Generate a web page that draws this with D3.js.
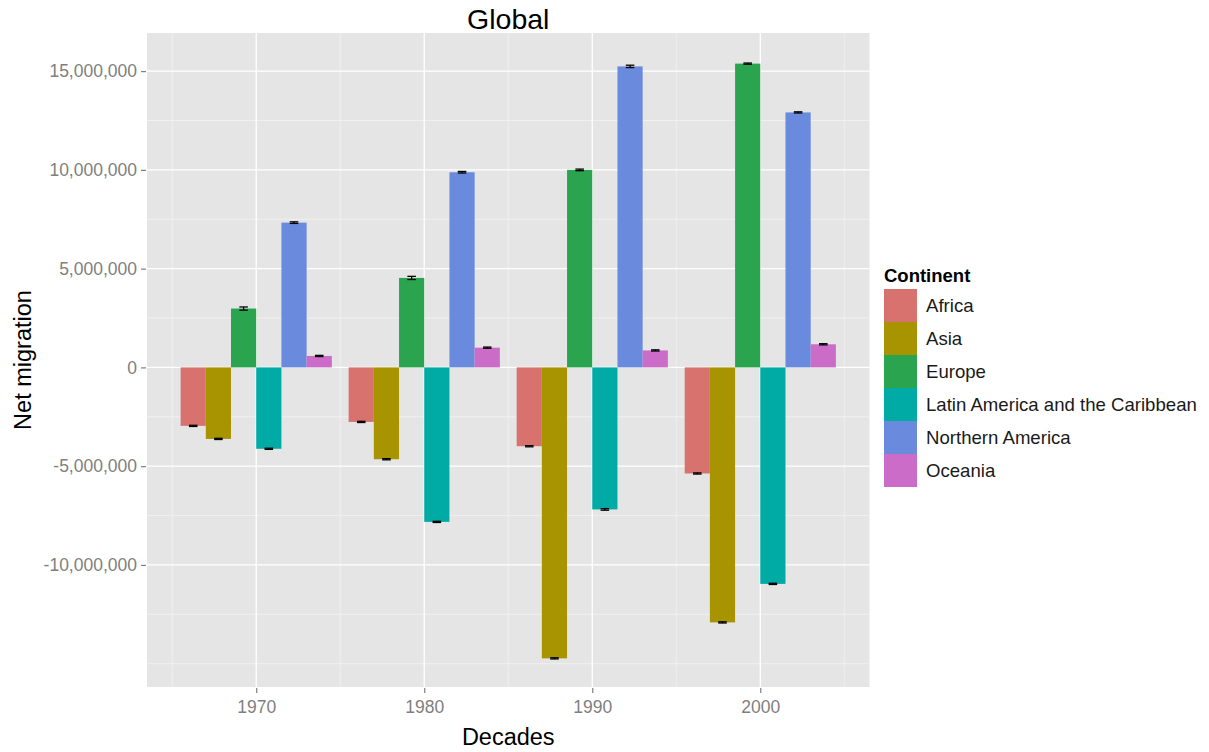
<!DOCTYPE html>
<html>
<head>
<meta charset="utf-8">
<script src="https://cdn.jsdelivr.net/npm/d3@7"></script>
<style>
  html, body { margin: 0; padding: 0; background: #ffffff; }
  svg { display: block; font-family: "Liberation Sans", Arial, sans-serif; }
</style>
</head>
<body>
<svg id="chart" width="1209" height="752"></svg>
<script>
// ---- data ----
const decades = [1970, 1980, 1990, 2000];
const continents = ["Africa", "Asia", "Europe", "Latin America and the Caribbean", "Northern America", "Oceania"];
const colors = ["#D7726F", "#A89300", "#2BA44F", "#00ABA6", "#6A8BDD", "#CB6CC8"];
const africa   = [-2960000, -2760000, -3990000, -5370000];
const asia     = [-3620000, -4650000, -14730000, -12910000];
const europe   = [2980000, 4530000, 10000000, 15380000];
const latin    = [-4120000, -7820000, -7190000, -10960000];
const northAm  = [7330000, 9880000, 15240000, 12910000];
const oceania  = [580000, 1000000, 860000, 1170000];
const errAfrica  = [30000, 30000, 30000, 30000];
const errAsia    = [30000, 30000, 30000, 30000];
const errEurope  = [80000, 80000, 40000, 30000];
const errLatin   = [30000, 30000, 40000, 30000];
const errNorthAm = [40000, 40000, 60000, 30000];
const errOceania = [30000, 30000, 30000, 30000];
const yTicks = [-10000000, -5000000, 0, 5000000, 10000000, 15000000];
const yMinor = [-15000000, -12500000, -7500000, -2500000, 2500000, 7500000, 12500000];
const xMinor = [1965, 1975, 1985, 1995, 2005];

const series = [africa, asia, europe, latin, northAm, oceania];
const errors = [errAfrica, errAsia, errEurope, errLatin, errNorthAm, errOceania];

const rows = [];
decades.forEach((d, di) => {
  continents.forEach((c, ci) => {
    rows.push({decade: d, idx: ci, continent: c, value: series[ci][di], err: errors[ci][di]});
  });
});

// ---- layout ----
const svg = d3.select("#chart");
const panel = {left: 147, right: 869.5, top: 33, bottom: 687};

const x = d3.scaleLinear().domain([1963.5, 2006.5]).range([panel.left, panel.right]);
const y = d3.scaleLinear().domain([-16180000, 16930000]).range([panel.bottom, panel.top]);
const dodge = 9, barW = dodge / continents.length;

// panel background
svg.append("rect")
  .attr("x", panel.left).attr("y", panel.top)
  .attr("width", panel.right - panel.left).attr("height", panel.bottom - panel.top)
  .attr("fill", "#E5E5E5");

const grid = svg.append("g");
grid.selectAll("line.ymin").data(yMinor).enter().append("line")
  .attr("x1", panel.left).attr("x2", panel.right)
  .attr("y1", d => y(d)).attr("y2", d => y(d))
  .attr("stroke", "#F2F2F2").attr("stroke-width", 0.8);
grid.selectAll("line.xmin").data(xMinor).enter().append("line")
  .attr("y1", panel.top).attr("y2", panel.bottom)
  .attr("x1", d => x(d)).attr("x2", d => x(d))
  .attr("stroke", "#F2F2F2").attr("stroke-width", 0.8);
grid.selectAll("line.ymaj").data(yTicks).enter().append("line")
  .attr("x1", panel.left).attr("x2", panel.right)
  .attr("y1", d => y(d)).attr("y2", d => y(d))
  .attr("stroke", "#FFFFFF").attr("stroke-width", 1.3);
grid.selectAll("line.xmaj").data(decades).enter().append("line")
  .attr("y1", panel.top).attr("y2", panel.bottom)
  .attr("x1", d => x(d)).attr("x2", d => x(d))
  .attr("stroke", "#FFFFFF").attr("stroke-width", 1.3);

// bars
const bars = svg.append("g");
bars.selectAll("rect").data(rows).enter().append("rect")
  .attr("x", d => x(d.decade - dodge / 2 + barW * d.idx))
  .attr("width", d => x(d.decade - dodge / 2 + barW * (d.idx + 1)) - x(d.decade - dodge / 2 + barW * d.idx))
  .attr("y", d => y(Math.max(0, d.value)))
  .attr("height", d => Math.abs(y(d.value) - y(0)))
  .attr("fill", d => colors[d.idx]);

// error bars
const eb = svg.append("g").attr("stroke", "#000").attr("stroke-width", 1.3);
rows.forEach(d => {
  const cx = x(d.decade - dodge / 2 + barW * (d.idx + 0.5));
  const hw = (x(barW) - x(0)) * 0.17;
  const y1 = y(d.value + d.err), y2 = y(d.value - d.err);
  eb.append("line").attr("x1", cx - hw).attr("x2", cx + hw).attr("y1", y1).attr("y2", y1);
  eb.append("line").attr("x1", cx - hw).attr("x2", cx + hw).attr("y1", y2).attr("y2", y2);
  eb.append("line").attr("x1", cx).attr("x2", cx).attr("y1", y1).attr("y2", y2);
});

// axes
const fmt = d3.format(",");
const yAxis = d3.axisLeft(y).tickValues(yTicks).tickSize(5).tickPadding(4)
  .tickFormat(d => fmt(d).replace("\u2212", "-"));
const gy = svg.append("g").attr("transform", `translate(${panel.left - 1},0)`).call(yAxis);
gy.select(".domain").remove();
gy.selectAll(".tick line").attr("stroke", "#7F7F7F").attr("stroke-width", 1.2);
gy.selectAll(".tick text").attr("fill", "#7F7F7F").style("font-size", "17.5px")
  .style("font-family", "'Liberation Sans', Arial, sans-serif");

const xAxis = d3.axisBottom(x).tickValues(decades).tickSize(5).tickPadding(8).tickFormat(d => String(d));
const gx = svg.append("g").attr("transform", `translate(0,${panel.bottom + 1})`).call(xAxis);
gx.select(".domain").remove();
gx.selectAll(".tick line").attr("stroke", "#7F7F7F").attr("stroke-width", 1.2);
gx.selectAll(".tick text").attr("fill", "#7F7F7F").style("font-size", "17.5px")
  .style("font-family", "'Liberation Sans', Arial, sans-serif");

// titles
svg.append("text").attr("x", (panel.left + panel.right) / 2).attr("y", 29)
  .attr("text-anchor", "middle").style("font-size", "28.5px").attr("fill", "#000").text("Global");
svg.append("text").attr("x", (panel.left + panel.right) / 2).attr("y", 745)
  .attr("text-anchor", "middle").style("font-size", "23.5px").attr("fill", "#000").text("Decades");
svg.append("text").attr("transform", `translate(31,${(panel.top + panel.bottom) / 2}) rotate(-90)`)
  .attr("text-anchor", "middle").style("font-size", "23.5px").attr("fill", "#000").text("Net migration");

// legend
const lg = svg.append("g").attr("transform", "translate(884,289)");
lg.append("text").attr("x", 0).attr("y", -7).style("font-size", "18.5px").style("font-weight", "bold")
  .attr("fill", "#000").text("Continent");
const keyH = 33;
continents.forEach((c, i) => {
  lg.append("rect").attr("x", 0).attr("y", i * keyH).attr("width", 33).attr("height", keyH)
    .attr("fill", colors[i]);
  lg.append("text").attr("x", 42).attr("y", i * keyH + keyH / 2 + 6.5)
    .style("font-size", "18.6px").attr("fill", "#1A1A1A").text(c);
});
</script>
</body>
</html>
